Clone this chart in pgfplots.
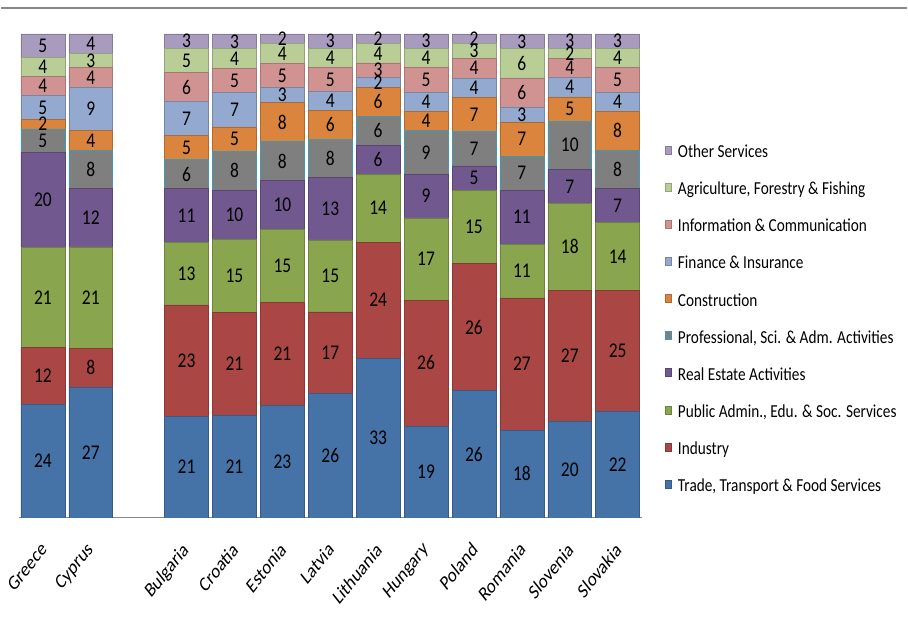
\documentclass[border=0pt]{standalone}
\usepackage{pgfplots}
\pgfplotsset{compat=1.18}
\usepackage{pgfplotstable}
\usepackage{graphicx}
\usepackage{fontspec}
\setmainfont{Carlito}

% sector colours
\definecolor{cTrade}{HTML}{4572A7}
\definecolor{cInd}{HTML}{AA4643}
\definecolor{cPub}{HTML}{89A54E}
\definecolor{cReal}{HTML}{71588F}
\definecolor{cProf}{HTML}{7F7F7F}
\definecolor{cProfEdge}{HTML}{4198AF}
\definecolor{cCons}{HTML}{DB843D}
\definecolor{cFin}{HTML}{93A9CF}
\definecolor{cInfo}{HTML}{D19392}
\definecolor{cAgri}{HTML}{B9CD96}
\definecolor{cOther}{HTML}{A99BBD}
\definecolor{frameline}{RGB}{135,135,135}

% shares of gross value added by sector (%), one row per country
\pgfplotstableread{
x  Trade Ind Pub Real Prof Cons Fin Info Agri Other
0  24 12 21 20  5 2 5 4 4 5
1  27  8 21 12  8 4 9 4 3 4
3  21 23 13 11  6 5 7 6 5 3
4  21 21 15 10  8 5 7 5 4 3
5  23 21 15 10  8 8 3 5 4 2
6  26 17 15 13  8 6 4 5 4 3
7  33 24 14  6  6 6 2 3 4 2
8  19 26 17  9  9 4 4 5 4 3
9  26 26 15  5  7 7 4 4 3 2
10 18 27 11 11  7 7 3 6 6 3
11 20 27 18  7 10 5 4 4 2 3
12 22 25 14  7  8 8 4 5 4 3
}\shares
\pgfplotstablecreatecol[create col/expr={\thisrow{Trade}+\thisrow{Ind}+\thisrow{Pub}+\thisrow{Real}+\thisrow{Prof}+\thisrow{Cons}+\thisrow{Fin}+\thisrow{Info}+\thisrow{Agri}+\thisrow{Other}}]{tot}\shares

\newcommand{\vs}[1]{\scalebox{1}[1.2]{#1}}
\newcommand{\legtext}[1]{\hspace{4bp}\scalebox{1}[1.2]{#1}}
\newcommand{\tl}[1]{\scalebox{1}[1.25]{\rotatebox{45}{#1}}}

\pgfplotsset{
  /pgfplots/ybar legend/.style={
    /pgfplots/legend image code/.code={%
      \draw[##1,line width=0.3bp] (0bp,-5bp) rectangle (10bp,5bp);}},
}

% one stacked segment per sector, scaled to the country total
\newcommand{\seg}[3]{%
  \addplot[fill=#2, draw=#3, line width=0.6bp]
    table[x=x, y expr={\thisrow{#1}*100/\thisrow{tot}}, meta=#1] {\shares};
}

\begin{document}
\begin{tikzpicture}
\path (0,0) rectangle (908bp,621bp);
\draw[frameline, line width=2bp] (0bp,612.5bp) -- (908bp,612.5bp);
\begin{axis}[
  at={(18bp,102bp)}, anchor=south west,
  scale only axis, width=624bp, height=485bp,
  ybar stacked, bar width=44bp,
  xmin=-0.5, xmax=12.5, ymin=0, ymax=100,
  xtick={0,1,3,4,5,6,7,8,9,10,11,12},
  xticklabels={\tl{Greece},\tl{Cyprus},\tl{Bulgaria},\tl{Croatia},\tl{Estonia},\tl{Latvia},\tl{Lithuania},\tl{Hungary},\tl{Poland},\tl{Romania},\tl{Slovenia},\tl{Slovakia}},
  xticklabel style={anchor=north east, inner sep=0pt, yshift=-23bp, xshift=5bp,
    font=\fontsize{16.5bp}{19bp}\selectfont},
  major tick length=0pt,
  axis x line*=bottom, axis y line=none,
  x axis line style={draw=frameline, line width=1.2bp, -},
  ytick=\empty,
  point meta=explicit,
  /pgf/number format/assume math mode=true,
  nodes near coords={\vs{\pgfmathprintnumber{\pgfplotspointmeta}}},
  every node near coord/.append style={anchor=center, text=black,
    font=\fontsize{17.5bp}{20bp}\selectfont, inner sep=0pt},
  legend style={at={(1.038,0.775)}, anchor=north west, draw=none, fill=none,
    font=\fontsize{15.3bp}{18bp}\selectfont, row sep=19bp, inner sep=0pt,
    legend cell align=left},
  reverse legend,
]
\seg{Trade}{cTrade}{cTrade!80!black}
\seg{Ind}{cInd}{cInd!80!black}
\seg{Pub}{cPub}{cPub!80!black}
\seg{Real}{cReal}{cReal!80!black}
\seg{Prof}{cProf}{cProfEdge}
\seg{Cons}{cCons}{cCons!80!black}
\seg{Fin}{cFin}{cFin!80!black}
\seg{Info}{cInfo}{cInfo!80!black}
\seg{Agri}{cAgri}{cAgri!80!black}
\seg{Other}{cOther}{cOther!80!black}
\legend{\legtext{Trade, Transport \& Food Services},\legtext{Industry},\legtext{Public Admin., Edu. \& Soc. Services},\legtext{Real Estate Activities},\legtext{Professional, Sci. \& Adm. Activities},\legtext{Construction},\legtext{Finance \& Insurance},\legtext{Information \& Communication},\legtext{Agriculture, Forestry \& Fishing},\legtext{Other Services}}
\end{axis}
\end{tikzpicture}
\end{document}
